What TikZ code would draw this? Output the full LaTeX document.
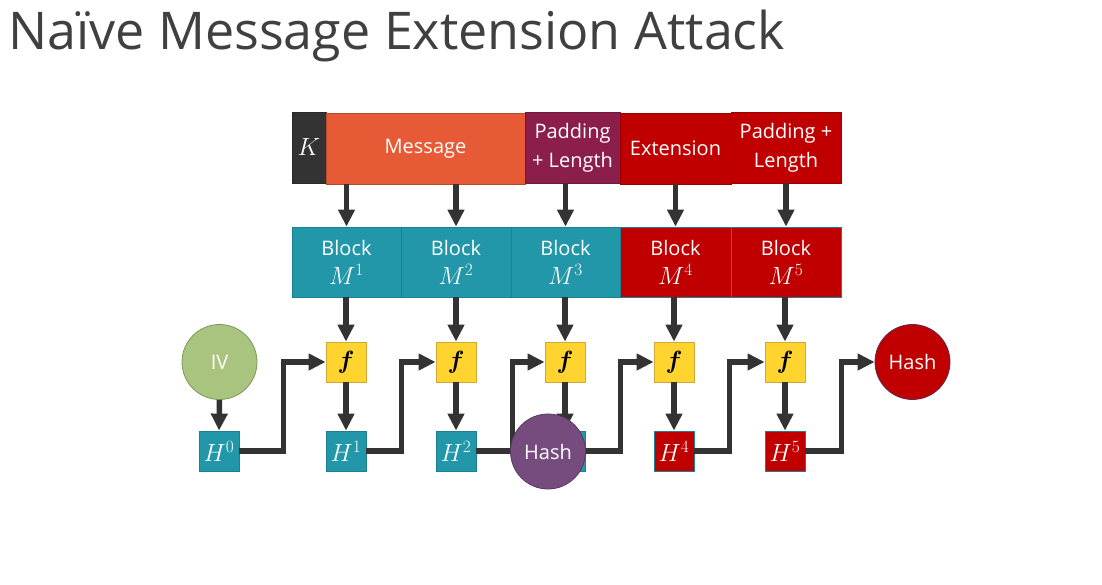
\documentclass[tikz,border=0pt]{standalone}
\usepackage{fontspec}
\setmainfont{Open Sans}
\usepackage{bm}
\usetikzlibrary{arrows.meta}
\definecolor{dk}{HTML}{333333}
\definecolor{ttl}{HTML}{404040}
\definecolor{msgc}{HTML}{E65A35}
\definecolor{padc}{HTML}{8B1E4B}
\definecolor{redc}{HTML}{C00000}
\definecolor{tealc}{HTML}{2297A9}
\definecolor{tealb}{HTML}{1D7F8F}
\definecolor{yelc}{HTML}{FFD42F}
\definecolor{yelb}{HTML}{D1A93A}
\definecolor{ivc}{HTML}{A9C47F}
\definecolor{ivb}{HTML}{7E9757}
\definecolor{hpur}{HTML}{764C7F}
\definecolor{hpurb}{HTML}{5B3763}
\definecolor{hredb}{HTML}{5E2A4E}
\newcommand{\mymth}[1]{{\fontsize{24}{28}\selectfont$#1$}}
\tikzset{
  boxtxt/.style={text=white, font=\fontsize{20}{29}\selectfont, align=center, inner sep=0pt},
  topbox/.style={boxtxt, rectangle, minimum height=71pt, draw=#1!80!black, line width=0.6pt},
  blkbox/.style={boxtxt, rectangle, minimum height=70pt, draw=tealb, line width=0.8pt},
  fbox/.style={rectangle, fill=yelc, draw=yelb, line width=0.8pt, minimum width=40pt, minimum height=40pt, inner sep=0pt, font=\fontsize{25}{28}\selectfont},
  hbox/.style={rectangle, draw=tealb, line width=0.8pt, minimum width=40pt, minimum height=40pt, inner sep=0pt, text=white, font=\fontsize{24}{28}\selectfont},
  circ/.style={circle, minimum size=75pt, inner sep=0pt, line width=0.8pt, text=white, font=\fontsize{20}{24}\selectfont},
  arr/.style={draw=dk, line width=5.5pt, -{Triangle[length=17pt,width=16pt]}},
}
\begin{document}
\begin{tikzpicture}[x=1pt,y=-1pt]
\useasboundingbox (0,0) rectangle (1102,585);
\fill[white] (0,0) rectangle (1102,585);
% title
\node[anchor=base west, inner sep=0pt, text=ttl, font=\fontsize{52}{60}\selectfont] (title) at (8,50) {Naïve Message Extension Attack};
% top row
\node[topbox=dk, fill=dk, minimum width=34pt] (k) at (309,147.5) {\mymth{K}};
\node[topbox=msgc, fill=msgc, minimum width=199pt] (msg) at (425.5,148.5) {Message};
\node[topbox=padc, fill=padc, minimum width=95pt] (pad) at (572.5,147.5) {Padding\\+ Length};
\node[topbox=redc, fill=redc, minimum width=111pt] (ext) at (675.5,148.5) {Extension};
\node[topbox=redc, fill=redc, minimum width=110pt] (pad2) at (786,147.5) {Padding +\\Length};
% block row
\node[blkbox, fill=tealc, minimum width=109pt] (b1) at (346.5,262) {Block\\\mymth{M^1}};
\node[blkbox, fill=tealc, minimum width=110pt] (b2) at (456,262) {Block\\\mymth{M^2}};
\node[blkbox, fill=tealc, minimum width=109pt] (b3) at (565.5,262) {Block\\\mymth{M^3}};
\node[blkbox, fill=redc, minimum width=111pt] (b4) at (675.5,262) {Block\\\mymth{M^4}};
\node[blkbox, fill=redc, minimum width=110pt] (b5) at (786,262) {Block\\\mymth{M^5}};
% f boxes
\node[fbox] (f1) at (346,362) {$\bm{f}$};
\node[fbox] (f2) at (456,362) {$\bm{f}$};
\node[fbox] (f3) at (565,362) {$\bm{f}$};
\node[fbox] (f4) at (674,362) {$\bm{f}$};
\node[fbox] (f5) at (785,362) {$\bm{f}$};
% H boxes
\node[circ, fill=ivc, draw=ivb] (iv) at (219.5,362) {IV};
\node[hbox, fill=tealc] (h0) at (219,451) {$H^0$};
\node[hbox, fill=tealc] (h1) at (346,451) {$H^1$};
\node[hbox, fill=tealc] (h2) at (456,451) {$H^2$};
\node[hbox, fill=tealc] (h3) at (565,451) {};
\node[hbox, fill=redc] (h4) at (674,451) {$H^4$};
\node[hbox, fill=redc] (h5) at (785,451) {$H^5$};
\node[circ, fill=redc, draw=hredb] (hashr) at (912.5,362) {Hash};
% arrows top -> blocks
\draw[arr] (b1 |- msg.south) -- (b1.north);
\draw[arr] (b2 |- msg.south) -- (b2.north);
\draw[arr] (b3 |- pad.south) -- (b3.north);
\draw[arr] (b4 |- ext.south) -- (b4.north);
\draw[arr] (b5 |- pad2.south) -- (b5.north);
% blocks -> f -> H
\foreach \i in {1,...,5} {
  \draw[arr] (f\i |- b\i.south) -- (f\i.north);
  \draw[arr] (f\i.south) -- (h\i.north);
}
\draw[arr] (iv.south) -- (h0.north);
% chaining
\draw[arr] (h0.east) -- ++(44,0) |- (f1.west);
\draw[arr] (h1.east) -- ++(35,0) |- (f2.west);
\draw[arr] (h2.east) -- ++(36,0) |- (f3.west);
\draw[arr] (h3.east) -- ++(35,0) |- (f4.west);
\draw[arr] (h4.east) -- ++(35,0) |- (f5.west);
\draw[arr] (h5.east) -- ++(36,0) |- (hashr.west);
% purple hash over H3
\node[circ, fill=hpur, draw=hpurb] (hashp) at (548,451.5) {Hash};
\end{tikzpicture}
\end{document}
